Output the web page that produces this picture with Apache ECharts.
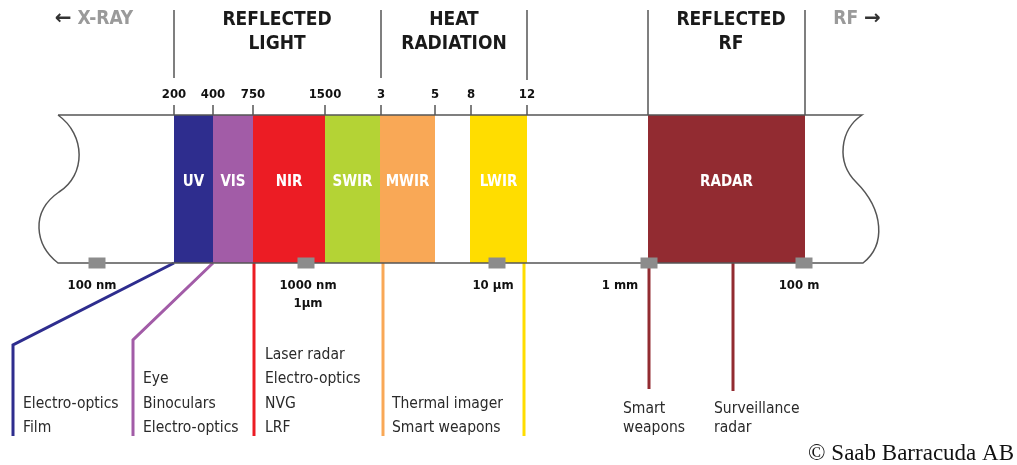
<!DOCTYPE html>
<html>
<head>
<meta charset="utf-8">
<script src="https://cdn.jsdelivr.net/npm/echarts@6/dist/echarts.min.js"></script>
<style>
html, body { margin: 0; padding: 0; background: #fff; }
#chart { width: 1017px; height: 465px; }
</style>
</head>
<body>
<div id="chart"></div>
<script>
var FONT = "'Liberation Sans Narrow', 'DejaVu Sans Condensed', 'Roboto', sans-serif";

// bands along the (schematic) spectrum axis
var bandNames = ['UV', 'VIS', 'NIR', 'SWIR', 'MWIR', 'LWIR', 'RADAR'];
var bandFrom = [174, 213, 253, 325, 380, 470, 648];
var bandTo = [213, 253, 325, 380, 435, 527, 805];
var bandColors = ['#2e2d8e', '#a25ca7', '#ec1c24', '#b4d335', '#f9a856', '#ffdd00', '#922b31'];

// wavelength ticks on top of the band (nm, then µm)
var tickLabels = ['200', '400', '750', '1500', '3', '5', '8', '12'];
var tickAt = [174, 213, 253, 325, 381, 435, 471, 527];

// scale marks under the band
var scaleLabels = ['100 nm', '1000 nm\n1µm', '10 µm', '1 mm', '100 m'];
var scaleAt = [97, 306, 497, 649, 804];
var scaleLabelShift = [-5, 2, -4, -29, -5];

// region headings and dividers
var regionNames = ['REFLECTED\nLIGHT', 'HEAT\nRADIATION', 'REFLECTED\nRF'];
var regionAt = [277, 454, 731];
var dividerAt = [174, 381, 527, 648, 805];
var dividerEnd = [78, 78, 80, 115, 115];

// applications
var useLists = [
    ['Electro-optics', 'Film'],
    ['Eye', 'Binoculars', 'Electro-optics'],
    ['Laser radar', 'Electro-optics', 'NVG', 'LRF'],
    ['Thermal imager', 'Smart weapons'],
    ['Smart', 'weapons'],
    ['Surveillance', 'radar']
];
var useAt = [23, 143, 265, 392, 623, 714];

// leader lines from band to applications
var leadBand = [0, 1, 2, 4, 5, 6, 6];
var leadFrom = [174, 213, 254, 383, 524, 649, 733];
var leadBendX = [13, 133, 254, 383, 524, 649, 733];
var leadBendY = [345, 340, 263, 263, 263, 263, 263];
var leadEndY = [436, 436, 436, 436, 436, 389, 391];

var TOP = 115, BOT = 263, TUBE_L = 58, TUBE_R = 862;

var chart = echarts.init(document.getElementById('chart'));

function txt(p, text, o) {
    return {
        type: 'text',
        x: p[0], y: p[1],
        style: Object.assign({
            text: text,
            fill: '#222',
            fontFamily: FONT,
            fontSize: 14,
            align: 'center',
            verticalAlign: 'middle'
        }, o || {})
    };
}

chart.setOption({
    animation: false,
    grid: { left: 0, right: 0, top: 0, bottom: 0 },
    xAxis: { type: 'value', min: 0, max: 1017, show: false },
    yAxis: { type: 'value', min: 0, max: 465, inverse: true, show: false },
    series: [
        {
            name: 'bands',
            type: 'custom',
            silent: true,
            z: 1,
            data: bandNames.map(function (n, i) { return [bandFrom[i], bandTo[i]]; }),
            renderItem: function (params, api) {
                var i = params.dataIndex;
                var a = api.coord([api.value(0), TOP]);
                var b = api.coord([api.value(1), BOT]);
                return {
                    type: 'group',
                    children: [
                        { type: 'rect', shape: { x: a[0], y: a[1], width: b[0] - a[0], height: b[1] - a[1] },
                          style: { fill: bandColors[i] } },
                        txt([(a[0] + b[0]) / 2, 182], bandNames[i], { fill: '#fff', fontWeight: 'bold', fontSize: 15 })
                    ]
                };
            }
        },
        {
            name: 'tube',
            type: 'custom',
            silent: true,
            z: 2,
            data: [[0]],
            renderItem: function (params, api) {
                function c(x, y) { var p = api.coord([x, y]); return p[0] + ' ' + p[1]; }
                var d = 'M' + c(TUBE_L, TOP) + ' L' + c(TUBE_R, TOP) +
                    ' C' + c(840, 130) + ' ' + c(836, 162) + ' ' + c(856, 182) +
                    ' C' + c(884, 210) + ' ' + c(886, 245) + ' ' + c(TUBE_R + 1, BOT) +
                    ' L' + c(TUBE_L, BOT) +
                    ' C' + c(35, 245) + ' ' + c(30, 212) + ' ' + c(59, 192) +
                    ' C' + c(86, 175) + ' ' + c(86, 135) + ' ' + c(TUBE_L, TOP);
                return { type: 'path', shape: { pathData: d },
                         style: { fill: null, stroke: '#555', lineWidth: 1.5 } };
            }
        },
        {
            name: 'ticks',
            type: 'custom',
            silent: true,
            z: 2,
            data: tickAt.map(function (x) { return [x]; }),
            renderItem: function (params, api) {
                var i = params.dataIndex;
                var a = api.coord([api.value(0), 105]);
                var b = api.coord([api.value(0), TOP]);
                return {
                    type: 'group',
                    children: [
                        { type: 'line', shape: { x1: a[0], y1: a[1], x2: b[0], y2: b[1] },
                          style: { stroke: '#555', lineWidth: 1.5 } },
                        txt(api.coord([api.value(0), 95]), tickLabels[i], { fontWeight: 'bold', fontSize: 13, fill: '#111' })
                    ]
                };
            }
        },
        {
            name: 'dividers',
            type: 'custom',
            silent: true,
            z: 2,
            data: dividerAt.map(function (x) { return [x]; }),
            renderItem: function (params, api) {
                var i = params.dataIndex;
                var a = api.coord([api.value(0), 10]);
                var b = api.coord([api.value(0), dividerEnd[i]]);
                return { type: 'line', shape: { x1: a[0], y1: a[1], x2: b[0], y2: b[1] },
                         style: { stroke: '#555', lineWidth: 1.5 } };
            }
        },
        {
            name: 'regions',
            type: 'custom',
            silent: true,
            data: regionAt.map(function (x) { return [x]; }),
            renderItem: function (params, api) {
                return txt(api.coord([api.value(0), 32]), regionNames[params.dataIndex],
                    { fontWeight: 'bold', fontSize: 19, lineHeight: 24, fill: '#1a1a1a' });
            }
        },
        {
            name: 'ends',
            type: 'custom',
            silent: true,
            data: [[94], [857]],
            renderItem: function (params, api) {
                var s = params.dataIndex === 0 ? '{a|←} {g|X-RAY}' : '{g|RF} {a|→}';
                return txt(api.coord([api.value(0), 19]), s, {
                    fontWeight: 'bold', fontSize: 19,
                    rich: {
                        a: { fill: '#333', fontSize: 20, fontWeight: 'bold', fontFamily: 'DejaVu Sans' },
                        g: { fill: '#9a9a9a', fontSize: 19, fontWeight: 'bold', fontFamily: FONT }
                    }
                });
            }
        },
        {
            name: 'leaders',
            type: 'custom',
            silent: true,
            z: 1,
            data: leadFrom.map(function (x) { return [x]; }),
            renderItem: function (params, api) {
                var i = params.dataIndex;
                var pts = [
                    api.coord([api.value(0), BOT]),
                    api.coord([leadBendX[i], leadBendY[i]]),
                    api.coord([leadBendX[i], leadEndY[i]])
                ];
                return { type: 'polyline', shape: { points: pts },
                         style: { fill: null, stroke: bandColors[leadBand[i]], lineWidth: 3 } };
            }
        },
        {
            name: 'uses',
            type: 'custom',
            silent: true,
            data: useAt.map(function (x) { return [x]; }),
            renderItem: function (params, api) {
                var i = params.dataIndex;
                var list = useLists[i];
                var step = i >= 4 ? 19 : 24.5;
                var kids = list.map(function (t, k) {
                    var y = 428 - (list.length - 1 - k) * step;
                    return txt(api.coord([api.value(0), y]), t,
                        { align: 'left', fontSize: 15.5, fill: '#2a2a2a' });
                });
                return { type: 'group', children: kids };
            }
        },
        {
            name: 'scale',
            type: 'scatter',
            silent: true,
            z: 3,
            symbol: 'rect',
            symbolSize: [17, 11],
            itemStyle: { color: '#8c8c8c', opacity: 1 },
            data: scaleAt.map(function (x, i) {
                return { value: [x, BOT], label: { offset: [scaleLabelShift[i], 0] } };
            }),
            label: {
                show: true,
                position: 'bottom',
                distance: 8,
                formatter: function (p) { return scaleLabels[p.dataIndex]; },
                fontFamily: FONT,
                fontWeight: 'bold',
                fontSize: 13,
                lineHeight: 18,
                color: '#111',
                opacity: 1
            }
        }
    ],
    graphic: [{
        type: 'text',
        right: 3,
        bottom: 0,
        style: { text: '© Saab Barracuda AB', fill: '#111', font: "23px 'Liberation Serif', serif" }
    }]
});
</script>
</body>
</html>
